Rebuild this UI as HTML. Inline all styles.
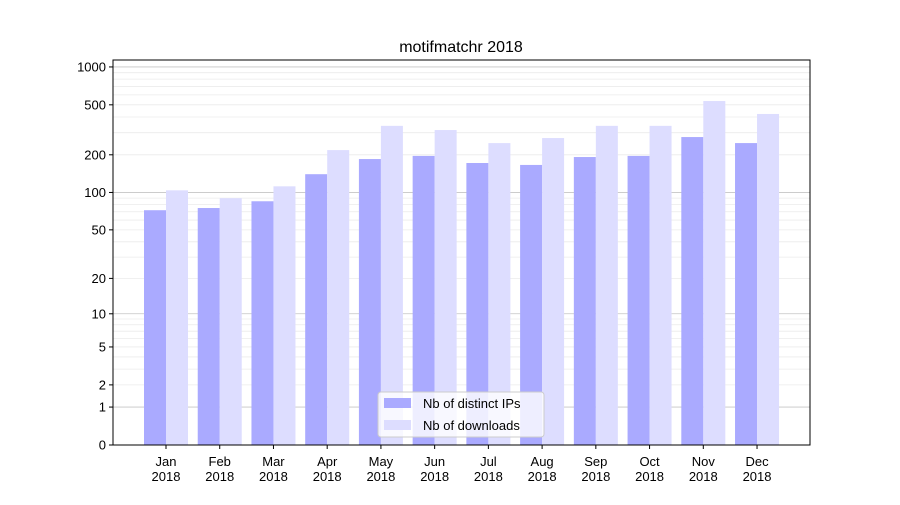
<!DOCTYPE html>
<html><head><meta charset="utf-8"><style>
body{margin:0;background:#fff;font-family:"Liberation Sans","DejaVu Sans",sans-serif;}
</style></head><body>
<svg id="chart" width="900" height="500" xmlns="http://www.w3.org/2000/svg">
<rect width="900" height="500" fill="#fff"/>
<text x="461" y="52" font-size="16" text-anchor="middle">motifmatchr 2018</text>
<g id="grid"></g><g id="bars"></g><g id="axes"></g>
</svg>
<script>
const months = ["Jan","Feb","Mar","Apr","May","Jun","Jul","Aug","Sep","Oct","Nov","Dec"];
const ips = [72,75,85,140,185,196,172,166,192,196,277,248];
const downloads = [104,90,112,218,340,315,248,272,340,340,536,423];
const yTicks = [0,1,2,5,10,20,50,100,200,500,1000];
const majorGrid = [1,10,100,1000];
const NS = "http://www.w3.org/2000/svg";
const L=113,R=810,T=60,B=445;
function y(v){return B-126*Math.log10(1+v);}
function x(i){return 166+i*53.73;}
function mk(tag,attrs,parent,text){const e=document.createElementNS(NS,tag);for(const k in attrs)e.setAttribute(k,attrs[k]);if(text!==undefined)e.textContent=text;parent.appendChild(e);return e;}
const grid=document.getElementById('grid'),bars=document.getElementById('bars'),axes=document.getElementById('axes');
// minor grid
for(let d=1;d<=100;d*=10){for(let m=2;m<=9;m++){const v=d*m;const g=mk('line',{x1:L,x2:R,y1:y(v),y2:y(v),stroke:'#ebebeb','stroke-width':0.8},grid);

}}
majorGrid.forEach(v=>{const g=mk('line',{x1:L,x2:R,y1:y(v),y2:y(v),stroke:'#c4c4c4','stroke-width':0.8},grid);

});
months.forEach((m,i)=>{
 const b1=mk('rect',{x:x(i)-22,y:y(ips[i]),width:22,height:B-y(ips[i]),fill:'#aaaaff'},bars);
 
 
 const b2=mk('rect',{x:x(i),y:y(downloads[i]),width:22,height:B-y(downloads[i]),fill:'#ddddff'},bars);
 
 
 mk('line',{x1:x(i),x2:x(i),y1:B,y2:B+4,stroke:'#000'},axes);
 const t=mk('text',{x:x(i),y:B+21,'font-size':13,'text-anchor':'middle'},axes);
 
 
 mk('tspan',{x:x(i)},t,m);mk('tspan',{x:x(i),dy:15},t,'2018');
});
yTicks.forEach(v=>{
 mk('line',{x1:L-4,x2:L,y1:y(v),y2:y(v),stroke:'#000'},axes);
 const t=mk('text',{x:L-7,y:y(v)+4.5,'font-size':13,'text-anchor':'end'},axes,String(v));
 
 
});
const frame=mk('rect',{x:L,y:T,width:R-L,height:B-T,fill:'none',stroke:'#000','stroke-width':1},axes);


const lg=mk('g',{},axes);


mk('rect',{x:378,y:392,width:166,height:45,rx:3,fill:'#fff','fill-opacity':0.8,stroke:'#ccc'},lg);
mk('rect',{x:384,y:398,width:27,height:10,fill:'#aaaaff'},lg);
mk('text',{x:423,y:408,'font-size':13},lg,'Nb of distinct IPs');
mk('rect',{x:384,y:420,width:27,height:10,fill:'#ddddff'},lg);
mk('text',{x:423,y:430,'font-size':13},lg,'Nb of downloads');
</script>
</body></html>
